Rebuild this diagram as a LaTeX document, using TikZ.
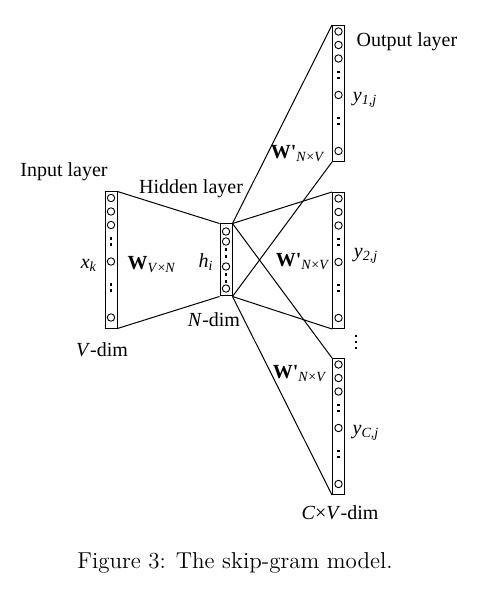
\documentclass[tikz,border=0pt]{standalone}
\usepackage{fontspec}
\usepackage{tikz}
\usetikzlibrary{positioning, calc}
\newfontfamily\timesfont{Liberation Serif}

\begin{document}
\begin{tikzpicture}[
            x=0.5pt, y=-0.5pt,
            bar/.style={rectangle, draw=black, line width=0.5pt, inner sep=0pt, minimum width=6pt, minimum height=68pt},
            shortbar/.style={bar, minimum height=36pt},
            lab/.style={inner sep=0pt, font=\timesfont\fontsize{10}{12}\selectfont},
            conn/.style={line width=0.5pt}
        ]
            \useasboundingbox (0,0) rectangle (485,592);

% Input layer
            \node[bar] (inp) at (111,260) {};

% Hidden layer
            \node[shortbar] (hid) at (226,260) {};

% Output layers
            \node[bar] (out1) at (338.5,93.5) {};
            \node[bar] (out2) at (338.5,260.5) {};
            \node[bar] (out3) at (338.5,426.5) {};

% Units in the long bars
            \foreach \b in {inp,out1,out2,out3}{
                \foreach \o in {6.5,20,33.5,70,126}
                    \draw[line width=0.45pt] ($(\b.north)+(0,\o)$) circle (1.85pt);
                \foreach \o in {47,53,93,99}
                    \fill ($(\b.north)+(0,\o)$) +(-0.6pt,-0.6pt) rectangle +(0.6pt,0.6pt);
            }

% Units in the hidden bar
            \foreach \o in {8,18,43,65}
                \draw[line width=0.45pt] ($(hid.north)+(0,\o)$) circle (1.85pt);
            \foreach \o in {26,33,51,58}
                \fill ($(hid.north)+(0,\o)$) +(-0.6pt,-0.6pt) rectangle +(0.6pt,0.6pt);

% More output panels
            \foreach \o in {336,342,348}
                \fill (356,\o) +(-0.6pt,-0.6pt) rectangle +(0.6pt,0.6pt);

% Connections
            \draw[conn] (inp.north east) -- (hid.north west);
            \draw[conn] (inp.south east) -- (hid.south west);
            \draw[conn] (hid.north east) -- (out1.north west);
            \draw[conn] (hid.south east) -- (out1.south west);
            \draw[conn] (hid.north east) -- (out2.north west);
            \draw[conn] (hid.south east) -- (out2.south west);
            \draw[conn] (hid.north east) -- (out3.north west);
            \draw[conn] (hid.south east) -- (out3.south west);

% Labels
            \node[lab] (inlab) at (64,172) {Input layer};
            \node[lab] (hidlab) at (191,189) {Hidden layer};
            \node[lab] (outlab) at (407,42) {Output layer};
            \node[lab] (xk) at (89,265) {\textit{x}\textsubscript{\textit{k}}};
            \node[lab] (win) at (152,265) {\textbf{W}\textsubscript{\textit{V}×\textit{N}}};
            \node[lab] (hi) at (206,262) {\textit{h}\textsubscript{\textit{i}}};
            \node[lab] (ndim) at (214,320) {\textit{N}-dim};
            \node[lab] (vdim) at (102,350) {\textit{V}-dim};
            \node[lab] (wout1) at (298,154) {\textbf{W'}\textsubscript{\textit{N}×\textit{V}}};
            \node[lab] (wout2) at (303,262) {\textbf{W'}\textsubscript{\textit{N}×\textit{V}}};
            \node[lab] (wout3) at (300,374) {\textbf{W'}\textsubscript{\textit{N}×\textit{V}}};
            \node[lab] (y1) at (365,100) {\textit{y}\textsubscript{\textit{1,j}}};
            \node[lab] (y2) at (366,256) {\textit{y}\textsubscript{\textit{2,j}}};
            \node[lab] (yc) at (366,433) {\textit{y}\textsubscript{\textit{C,j}}};
            \node[lab] (cvdim) at (340,513) {\textit{C}×\textit{V}-dim};

% Caption
            \node[font=\fontsize{11.5}{14}\selectfont] (caption) at (235,563) {Figure 3: The skip-gram model.};

        \end{tikzpicture}
\end{document}
